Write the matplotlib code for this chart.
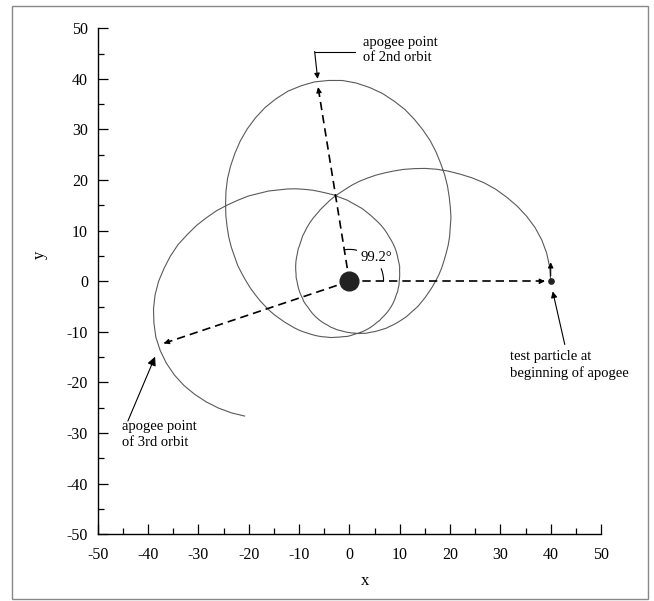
import numpy as np
import matplotlib
matplotlib.use('Agg')
import matplotlib.pyplot as plt
from matplotlib.patches import Rectangle, Arc

plt.rcParams['font.family'] = ['Liberation Serif', 'DejaVu Serif']
plt.rcParams['axes.unicode_minus'] = False

# orbit: radius (r) every 4 degrees of polar angle, starting at the first apogee
orbit_angle = np.arange(0, 953, 4)
orbit_radius = [
    40.0, 39.9, 39.6, 39.1, 38.4, 37.5, 36.5, 35.4, 34.3, 33.1,
    31.8, 30.5, 29.3, 28.1, 26.9, 25.7, 24.6, 23.5, 22.5, 21.6,
    20.7, 19.9, 19.1, 18.3, 17.6, 17.0, 16.4, 15.8, 15.3, 14.8,
    14.4, 14.0, 13.6, 13.2, 12.9, 12.5, 12.2, 12.0, 11.7, 11.5,
    11.3, 11.1, 10.9, 10.7, 10.6, 10.4, 10.3, 10.2, 10.1, 10.0,
    9.9, 9.9, 9.8, 9.7, 9.7, 9.7, 9.7, 9.7, 9.7, 9.7,
    9.7, 9.7, 9.8, 9.8, 9.9, 9.9, 10.0, 10.1, 10.2, 10.3,
    10.5, 10.6, 10.8, 10.9, 11.1, 11.3, 11.5, 11.8, 12.0, 12.3,
    12.6, 12.9, 13.3, 13.6, 14.0, 14.5, 14.9, 15.4, 15.9, 16.5,
    17.1, 17.8, 18.5, 19.2, 20.0, 20.9, 21.8, 22.7, 23.8, 24.8,
    25.9, 27.1, 28.3, 29.5, 30.8, 32.1, 33.3, 34.5, 35.7, 36.7,
    37.7, 38.5, 39.2, 39.7, 39.9, 40.0, 39.8, 39.5, 38.9, 38.2,
    37.3, 36.3, 35.2, 34.0, 32.8, 31.6, 30.3, 29.0, 27.8, 26.6,
    25.5, 24.4, 23.3, 22.4, 21.4, 20.5, 19.7, 18.9, 18.2, 17.5,
    16.9, 16.3, 15.7, 15.2, 14.7, 14.3, 13.9, 13.5, 13.1, 12.8,
    12.5, 12.2, 11.9, 11.7, 11.4, 11.2, 11.0, 10.9, 10.7, 10.5,
    10.4, 10.3, 10.2, 10.1, 10.0, 9.9, 9.8, 9.8, 9.7, 9.7,
    9.7, 9.7, 9.7, 9.7, 9.7, 9.7, 9.7, 9.8, 9.8, 9.9,
    9.9, 10.0, 10.1, 10.2, 10.4, 10.5, 10.6, 10.8, 11.0, 11.2,
    11.4, 11.6, 11.8, 12.1, 12.4, 12.7, 13.0, 13.3, 13.7, 14.1,
    14.6, 15.0, 15.5, 16.1, 16.6, 17.3, 17.9, 18.6, 19.4, 20.2,
    21.1, 22.0, 22.9, 24.0, 25.0, 26.2, 27.3, 28.5, 29.8, 31.0,
    32.3, 33.5, 34.8, 35.9, 36.9, 37.9, 38.7, 39.3, 39.7, 40.0,
    40.0, 39.8, 39.4, 38.8, 38.0, 37.1, 36.1, 35.0, 33.8,
]

apogee_r = 40
apogee_angles = [0, 99.2, 198.4]
angle_label = '99.2°'
particle_x, particle_y = 40, 0

fig = plt.figure(figsize=(6.54, 6.01), dpi=100)
ax = fig.add_axes([0.1494, 0.111, 0.7696, 0.842])

th = np.radians(orbit_angle)
rr = np.array(orbit_radius)
ax.plot(rr * np.cos(th), rr * np.sin(th), color='#5a5a5a', lw=0.8, solid_joinstyle='round')

# dashed radius lines out to the apogees
for a in apogee_angles:
    t = np.radians(a)
    ex, ey = apogee_r * np.cos(t), apogee_r * np.sin(t)
    ax.plot([0, ex * 0.97], [0, ey * 0.97], color='black', lw=1.2, dashes=(5, 3))
    ax.annotate('', xy=(ex * 0.985, ey * 0.985), xytext=(ex * 0.94, ey * 0.94),
                arrowprops=dict(arrowstyle='-|>', lw=0.8, color='black', mutation_scale=8))

# direction of motion at the start
ax.annotate('', xy=(particle_x, 4.3), xytext=(particle_x, 0.5),
            arrowprops=dict(arrowstyle='-|>', lw=0.8, color='black', mutation_scale=8))

ax.plot([0], [0], 'o', ms=13.5, color='#222222', zorder=5)
ax.plot([particle_x], [particle_y], 'o', ms=3.8, color='#222222', zorder=5)

# angle marks
ax.add_patch(Arc((0, 0), 13.6, 13.6, theta1=0, theta2=22, lw=0.8, color='black'))
ax.add_patch(Arc((0, 0), 12.6, 12.6, theta1=76, theta2=apogee_angles[1], lw=0.8, color='black'))
ax.text(2.3, 4.6, angle_label, fontsize=10.5, ha='left', va='center')

# annotations
ax.text(2.7, 48.5, 'apogee point\nof 2nd orbit', fontsize=10.5, ha='left', va='top', linespacing=1.25)
ax.plot([1.2, -6.9], [45.4, 45.4], color='black', lw=0.8)
ax.annotate('', xy=(-6.3, 40.0), xytext=(-6.9, 45.4),
            arrowprops=dict(arrowstyle='-|>', lw=0.8, color='black', mutation_scale=8, shrinkA=0, shrinkB=0))

ax.text(31.9, -13.6, 'test particle at\nbeginning of apogee', fontsize=10.5, ha='left', va='top',
        linespacing=1.25)
ax.annotate('', xy=(40.4, -2.0), xytext=(42.8, -12.5),
            arrowprops=dict(arrowstyle='-|>', lw=0.8, color='black', mutation_scale=9, shrinkA=0, shrinkB=0))

ax.text(-45.2, -27.5, 'apogee point\nof 3rd orbit', fontsize=10.5, ha='left', va='top', linespacing=1.25)
ax.annotate('', xy=(-38.6, -14.9), xytext=(-44.0, -27.6),
            arrowprops=dict(arrowstyle='-|>', lw=0.8, color='black', mutation_scale=13, shrinkA=0, shrinkB=0))

ax.set_xlim(-50, 50)
ax.set_ylim(-50, 50)
ax.set_xticks(range(-50, 51, 10))
ax.set_yticks(range(-50, 51, 10))
ax.set_xticks(range(-45, 50, 10), minor=True)
ax.set_yticks(range(-45, 50, 10), minor=True)
ax.tick_params(which='both', direction='in', width=0.9, labelsize=11.5)
ax.tick_params(which='major', length=7, pad=7)
ax.tick_params(axis='x', which='major', pad=9)
ax.tick_params(which='minor', length=4)
for s in ['top', 'right']:
    ax.spines[s].set_visible(False)
for s in ['left', 'bottom']:
    ax.spines[s].set_linewidth(1.0)
ax.set_xlabel('x', fontsize=12)
ax.set_ylabel('y', fontsize=12)
ax.xaxis.set_label_coords(0.531, -0.077)
ax.yaxis.set_label_coords(-0.1, 0.552)

# page frame round the figure
fig.patches.append(Rectangle((12 / 654, 2 / 601), 636 / 654, 593 / 601, transform=fig.transFigure,
                             fill=False, edgecolor='#888888', lw=1.0))

fig.savefig('out.png', dpi=100)
